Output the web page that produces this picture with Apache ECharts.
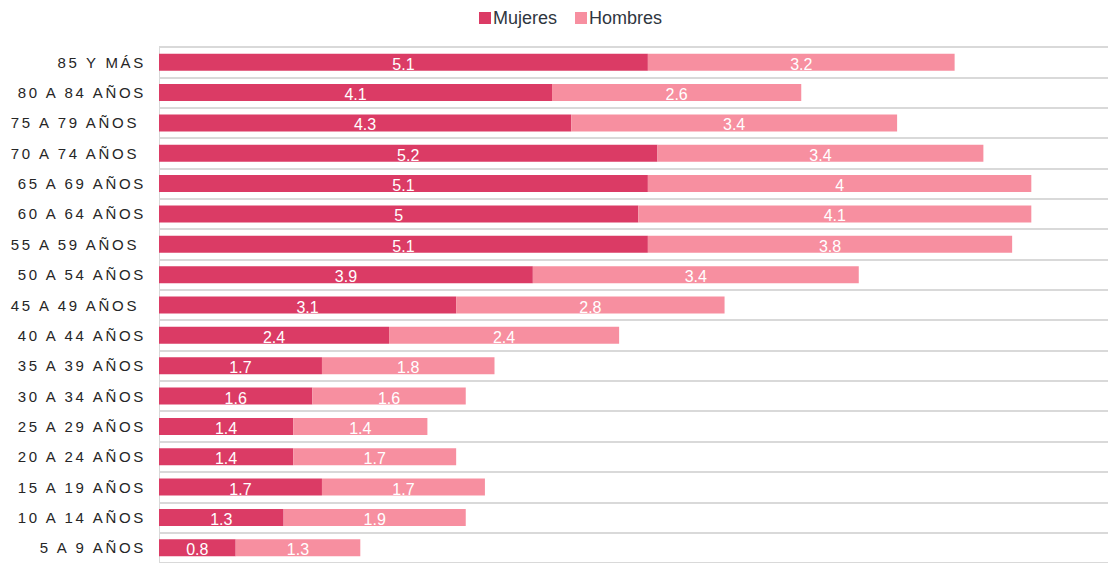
<!DOCTYPE html>
<html>
<head>
<meta charset="utf-8">
<script src="https://cdn.jsdelivr.net/npm/echarts@6/dist/echarts.min.js"></script>
<style>
html,body{margin:0;padding:0;background:#fff;}
#chart{width:1109px;height:563px;}
#chart text[style*="Arial"], #chart text[font-family*="Arial"]{letter-spacing:2.7px;white-space:pre;}
</style>
</head>
<body>
<div id="chart"></div>
<script>
const categories = ["5 A 9 AÑOS","10 A 14 AÑOS","15 A 19 AÑOS","20 A 24 AÑOS","25 A 29 AÑOS","30 A 34 AÑOS","35 A 39 AÑOS","40 A 44 AÑOS","45 A 49 AÑOS ","50 A 54 AÑOS","55 A 59 AÑOS ","60 A 64 AÑOS","65 A 69 AÑOS","70 A 74 AÑOS ","75 A 79 AÑOS ","80 A 84 AÑOS","85 Y MÁS"];
const mujeres = [0.8,1.3,1.7,1.4,1.4,1.6,1.7,2.4,3.1,3.9,5.1,5,5.1,5.2,4.3,4.1,5.1];
const hombres = [1.3,1.9,1.7,1.7,1.4,1.6,1.8,2.4,2.8,3.4,3.8,4.1,4,3.4,3.4,2.6,3.2];

const chart = echarts.init(document.getElementById('chart'), null, {renderer:'svg'});
const labelStyle = {show:true, position:'inside', color:'#fff', fontSize:16, fontFamily:'Liberation Sans', offset:[0,2]};
chart.setOption({
  animation:false,
  textStyle:{fontFamily:'Liberation Sans'},
  legend:{
    top:4, left:474,
    itemWidth:12, itemHeight:12, itemGap:18,
    icon:'rect',
    textStyle:{fontSize:18, color:'#2f3640', fontFamily:'Liberation Sans', padding:[0,0,0,-3]},
    data:['Mujeres','Hombres']
  },
  grid:{left:159, right:1, top:47, bottom:0, containLabel:false},
  xAxis:{type:'value', min:0, max:9.9, show:false, splitLine:{show:false}},
  yAxis:{
    type:'category', data:categories,
    axisTick:{show:false},
    axisLine:{show:true, lineStyle:{color:'#d9d9d9', width:1}},
    axisLabel:{fontSize:15, color:'#262626', fontFamily:'Arial', margin:13},
    splitLine:{show:true, lineStyle:{color:'#d9d9d9', width:2}}
  },
  series:[
    {name:'Mujeres', type:'bar', stack:'t', data:mujeres, barWidth:17,
     itemStyle:{color:'#db3b65'}, label:labelStyle},
    {name:'Hombres', type:'bar', stack:'t', data:hombres, barWidth:17,
     itemStyle:{color:'#f78fa0'}, label:labelStyle}
  ]
});
</script>
</body>
</html>
